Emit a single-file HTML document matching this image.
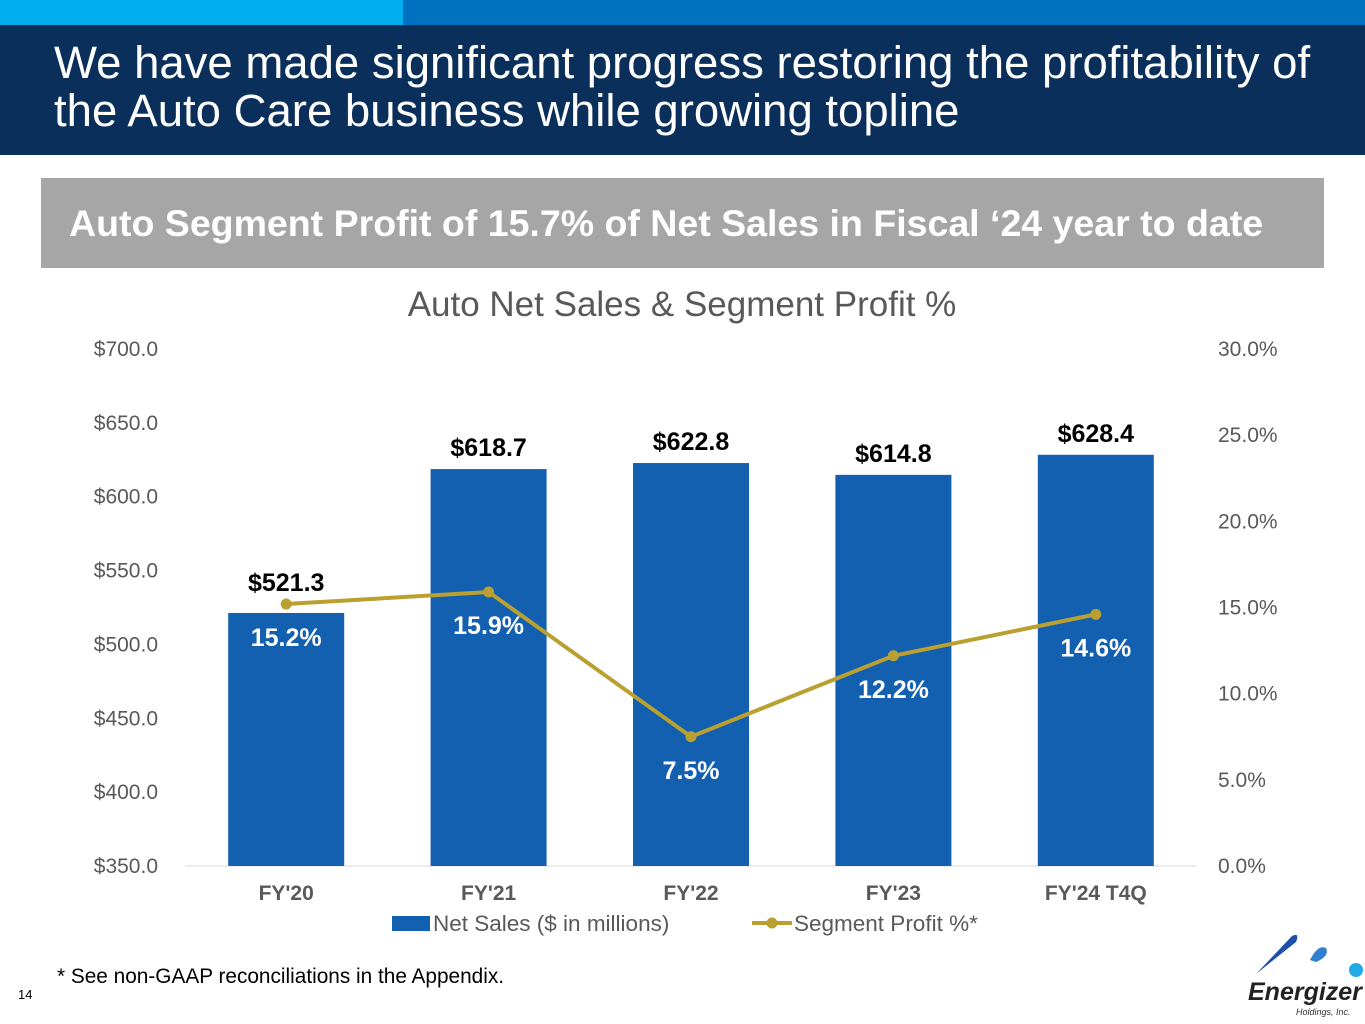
<!DOCTYPE html>
<html><head><meta charset="utf-8"><style>
body{margin:0;width:1365px;height:1024px;position:relative;background:#fff;font-family:"Liberation Sans",sans-serif;overflow:hidden}
.abs{position:absolute}
</style></head><body>
<div class="abs" style="left:0;top:0;width:403px;height:25px;background:#00AEEF"></div>
<div class="abs" style="left:403px;top:0;width:962px;height:25px;background:#0070C0"></div>
<div class="abs" style="left:0;top:25px;width:1365px;height:130px;background:#0A2F5A"></div>
<div class="abs" style="left:54px;top:39px;color:#fff;font-size:45.5px;line-height:48px;width:1290px">We have made significant progress restoring the profitability of the Auto Care business while growing topline</div>
<div class="abs" style="left:41px;top:178px;width:1283px;height:90px;background:#A6A6A6"></div>
<div class="abs" style="left:69px;top:202px;color:#fff;font-size:37.5px;font-weight:bold;white-space:nowrap">Auto Segment Profit of 15.7% of Net Sales in Fiscal ‘24 year to date</div>
<svg class="abs" style="left:0;top:0" width="1365" height="1024" id="chart"></svg>
<div class="abs" style="left:57px;top:965px;font-size:20.8px;color:#000">* See non-GAAP reconciliations in the Appendix.</div>
<div class="abs" style="left:18px;top:987px;font-size:13px;color:#000">14</div>
<svg class="abs" style="left:1240px;top:930px" width="125" height="94">
<path d="M16 44 L52 6 Q60 2 56 12 Z" fill="#1F4FA8"/>
<path d="M70 30 Q78 14 86 18 Q90 26 76 32 Z" fill="#2F7FD0"/>
<circle cx="116" cy="40" r="7" fill="#23A8E8"/>
<text x="8" y="70" font-family="Liberation Sans" font-size="25" font-weight="bold" font-style="italic" fill="#222">Energizer</text>
<text x="56" y="85" font-family="Liberation Sans" font-size="9" font-style="italic" fill="#333">Holdings, Inc.</text>
</svg>
<script>
const categories=["FY'20","FY'21","FY'22","FY'23","FY'24 T4Q"];
const netSales=[521.3,618.7,622.8,614.8,628.4];
const profitPct=[15.2,15.9,7.5,12.2,14.6];
const leftTicks=[350,400,450,500,550,600,650,700];
const rightTicks=[0,5,10,15,20,25,30];
const NS="http://www.w3.org/2000/svg";
const svg=document.getElementById('chart');
const yTop=349,yBot=866,x0=185,x1=1197;
const yL=v=>yBot-(v-350)/350*(yBot-yTop);
const yR=v=>yBot-v/30*(yBot-yTop);
const band=(x1-x0)/categories.length;
const xc=i=>x0+band*(i+0.5);
function mk(tag,attrs,txt){const e=document.createElementNS(NS,tag);for(const k in attrs)e.setAttribute(k,attrs[k]);if(txt!=null)e.textContent=txt;svg.appendChild(e);return e;}
let t=mk('text',{x:682,y:316,'text-anchor':'middle','font-size':35,fill:'#595959'},'Auto Net Sales & Segment Profit %');


leftTicks.forEach(v=>{const e=mk('text',{x:158,y:yL(v)+7,'text-anchor':'end','font-size':21,fill:'#595959'},'$'+v.toFixed(1));

});
rightTicks.forEach(v=>{const e=mk('text',{x:1218,y:yR(v)+7,'font-size':21,fill:'#595959'},v.toFixed(1)+'%');

});
let ax=mk('line',{x1:x0,x2:x1,y1:yBot,y2:yBot,stroke:'#d9d9d9','stroke-width':1});


const bw=116;
netSales.forEach((v,i)=>{
 const r=mk('rect',{x:xc(i)-bw/2,y:yL(v),width:bw,height:yBot-yL(v),fill:'#1360B0'});
 
 
 const top=Math.min(yL(v),yR(profitPct[i]));
 const l=mk('text',{x:xc(i),y:top-13,'text-anchor':'middle','font-size':25,'font-weight':'bold',fill:'#000'},'$'+v.toFixed(1));
 
 
 const c=mk('text',{x:xc(i),y:yBot+34,'text-anchor':'middle','font-size':21,'font-weight':'bold',fill:'#595959'},categories[i]);
 
 
});
const pl=mk('polyline',{points:profitPct.map((v,i)=>xc(i)+','+yR(v)).join(' '),fill:'none',stroke:'#B9A030','stroke-width':4});


profitPct.forEach((v,i)=>{
 const c=mk('circle',{cx:xc(i),cy:yR(v),r:5.5,fill:'#B9A030'});
 
 
 const l=mk('text',{x:xc(i),y:yR(v)+42,'text-anchor':'middle','font-size':25,'font-weight':'bold',fill:'#fff'},v.toFixed(1)+'%');
 
 
});
let lg=mk('rect',{x:392,y:916,width:38,height:15,fill:'#1360B0'});


lg=mk('text',{x:433,y:931,'font-size':22.5,fill:'#595959'},'Net Sales ($ in millions)');


lg=mk('line',{x1:752,x2:792,y1:923,y2:923,stroke:'#B9A030','stroke-width':4});


lg=mk('circle',{cx:772,cy:923,r:5.5,fill:'#B9A030'});


lg=mk('text',{x:794,y:931,'font-size':22.5,fill:'#595959'},'Segment Profit %*');


</script>
</body></html>
